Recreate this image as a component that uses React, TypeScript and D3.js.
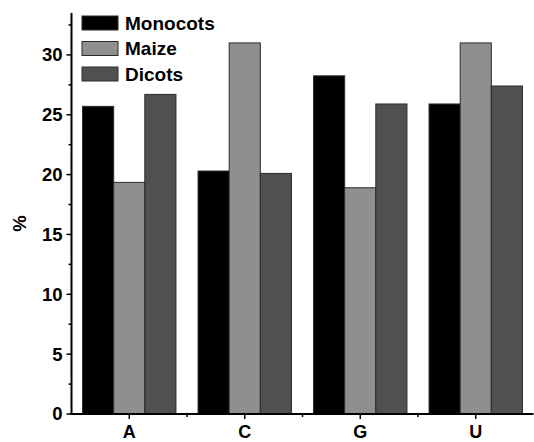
import React from "react";
import * as d3 from "d3";

const categories = ["A", "C", "G", "U"];
const seriesNames = ["Monocots", "Maize", "Dicots"];
const monocots = [25.7, 20.3, 28.25, 25.9];
const maize = [19.35, 31.0, 18.9, 31.0];
const dicots = [26.7, 20.1, 25.9, 27.4];
const seriesColors = ["#000000", "#8f8f8f", "#505050"];
const yTicks = [0, 5, 10, 15, 20, 25, 30];
const yMinorTicks = [2.5, 7.5, 12.5, 17.5, 22.5, 27.5, 32.5];

export default function App() {
  const W = 534, H = 442;
  const left = 71.5, right = 533.5, top = 13, bottom = 414;
  const font = "'Liberation Sans', Arial, sans-serif";
  const series = [monocots, maize, dicots];

  const y = d3.scaleLinear().domain([0, 33.5]).range([bottom, top]);
  const x = d3.scaleBand<string>().domain(categories).range([left, right]).paddingInner(0).paddingOuter(0);
  const groupW = 93.4;
  const inner = d3.scaleBand<number>().domain([0, 1, 2]).range([0, groupW]);
  const bw = inner.bandwidth();

  const boundaries = categories.slice(1).map((c) => x(c)!);

  return (
    <svg width={W} height={H} style={{ position: "absolute", left: 0, top: 0 }}>
      <rect width={W} height={H} fill="#fff" />
      {categories.map((c, ci) => {
        const cx = x(c)! + x.bandwidth() / 2;
        return series.map((s, si) => (
          <rect
            key={c + si}
            x={cx - groupW / 2 + inner(si)!}
            y={y(s[ci])}
            width={bw}
            height={bottom - y(s[ci])}
            fill={seriesColors[si]}
            stroke="#2a2a2a"
            strokeWidth={1}
          />
        ));
      })}
      {/* y axis */}
      <line x1={left} x2={left} y1={top} y2={bottom + 1} stroke="#000" strokeWidth={2} />
      {yTicks.map((t) => (
        <g key={t}>
          <line x1={left - 5} x2={left} y1={y(t)} y2={y(t)} stroke="#000" strokeWidth={1.5} />
          <text
            x={left - 9}
            y={y(t)}
            dy="0.35em"
            textAnchor="end"
            fontFamily={font}
            fontWeight="bold"
            fontSize={18.5}
            fill="#000"
          >
            {t}
          </text>
        </g>
      ))}
      {yMinorTicks.map((t) => (
        <line key={t} x1={left - 3} x2={left} y1={y(t)} y2={y(t)} stroke="#000" strokeWidth={1.5} />
      ))}
      {/* x axis */}
      <line x1={left - 1} x2={right} y1={bottom} y2={bottom} stroke="#000" strokeWidth={2} />
      {categories.map((c) => {
        const cx = x(c)! + x.bandwidth() / 2;
        return (
          <g key={c}>
            <line x1={cx} x2={cx} y1={bottom} y2={bottom + 5} stroke="#000" strokeWidth={1.5} />
            <text
              x={cx}
              y={438}
              textAnchor="middle"
              fontFamily={font}
              fontWeight="bold"
              fontSize={18}
              fill="#000"
            >
              {c}
            </text>
          </g>
        );
      })}
      {boundaries.map((b, i) => (
        <line key={i} x1={b} x2={b} y1={bottom} y2={bottom + 3} stroke="#000" strokeWidth={1.5} />
      ))}
      <text
        transform={`translate(20,${(top + bottom) / 2 + 10}) rotate(-90)`}
        textAnchor="middle"
        dy="0.35em"
        fontFamily={font}
        fontWeight="bold"
        fontSize={18.5}
        fill="#000"
      >
        %
      </text>
      {/* legend */}
      {seriesNames.map((n, i) => (
        <g key={n} transform={`translate(82,${16 + i * 25.5})`}>
          <rect x={0} y={0} width={36} height={14} fill={seriesColors[i]} stroke="#2a2a2a" strokeWidth={1} />
          <text
            x={43}
            y={7}
            dy="0.35em"
            fontFamily={font}
            fontWeight="bold"
            fontSize={19}
            fill="#000"
          >
            {n}
          </text>
        </g>
      ))}
    </svg>
  );
}
